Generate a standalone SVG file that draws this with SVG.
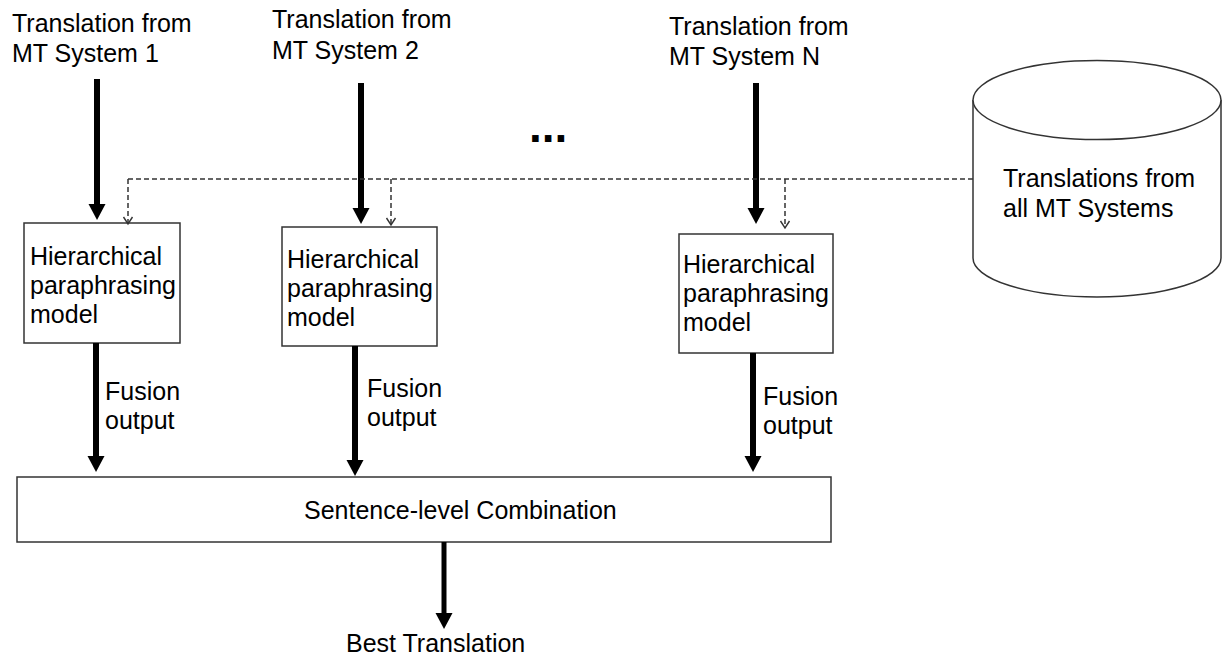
<svg xmlns="http://www.w3.org/2000/svg" width="1222" height="655" viewBox="0 0 1222 655">
  <style>
    text { font-family: "Liberation Sans", Arial, sans-serif; font-size: 25px; fill: #000; }
    .box { fill: #fff; stroke: #333; stroke-width: 1.5; }
    .thick { stroke: #000; stroke-width: 6; fill: none; }
    .dash { stroke: #333; stroke-width: 1.5; stroke-dasharray: 5 3; fill: none; }
  </style>
  <defs>
    <marker id="head" markerUnits="userSpaceOnUse" markerWidth="18" markerHeight="18" refX="0" refY="8.5" orient="auto" overflow="visible">
      <path d="M0,0 L16,8.5 L0,17 Z" fill="#000"/>
    </marker>
    <marker id="open" markerUnits="userSpaceOnUse" markerWidth="10" markerHeight="10" refX="7" refY="4.5" orient="auto" overflow="visible">
      <path d="M0,0 L7,4.5 L0,9" fill="none" stroke="#333" stroke-width="1.4" stroke-dasharray="none"/>
    </marker>
  </defs>

  <!-- source labels -->
  <g id="src1">
    <text x="12" y="32">Translation from</text>
    <text x="12" y="62">MT System 1</text>
  </g>
  <g id="src2">
    <text x="272" y="28">Translation from</text>
    <text x="272" y="59">MT System 2</text>
  </g>
  <g id="srcN">
    <text x="669" y="35">Translation from</text>
    <text x="669" y="65">MT System N</text>
  </g>
  <g id="ellipsis">
    <text x="529" y="142" style="font-size:46px;font-weight:bold">...</text>
  </g>

  <!-- store of all system outputs -->
  <g id="store">
    <path class="box" d="M973,100 L973,258 A124,39 0 0 0 1221,258 L1221,100"/>
    <ellipse class="box" cx="1097" cy="100" rx="124" ry="39.5"/>
    <text x="1003" y="187">Translations from</text>
    <text x="1003" y="217">all MT Systems</text>
  </g>

  <!-- paraphrasing models -->
  <g id="model1">
    <rect class="box" x="24" y="223" width="156" height="120"/>
    <text x="30" y="265">Hierarchical</text>
    <text x="30" y="294">paraphrasing</text>
    <text x="30" y="323">model</text>
  </g>
  <g id="model2">
    <rect class="box" x="282" y="227" width="155" height="119"/>
    <text x="287" y="268">Hierarchical</text>
    <text x="287" y="297">paraphrasing</text>
    <text x="287" y="326">model</text>
  </g>
  <g id="modelN">
    <rect class="box" x="679" y="234" width="154" height="119"/>
    <text x="683" y="273">Hierarchical</text>
    <text x="683" y="302">paraphrasing</text>
    <text x="683" y="331">model</text>
  </g>

  <!-- combination -->
  <g id="combine">
    <rect class="box" x="17" y="477" width="814" height="65"/>
    <text x="304" y="519">Sentence-level Combination</text>
  </g>
  <g id="best">
    <text x="346" y="652">Best Translation</text>
  </g>

  <g id="connectors">
    <!-- inputs -->
    <line class="thick" x1="97" y1="79" x2="97" y2="204" marker-end="url(#head)"/>
    <line class="thick" x1="361" y1="83" x2="361" y2="208" marker-end="url(#head)"/>
    <line class="thick" x1="756" y1="83" x2="756" y2="208" marker-end="url(#head)"/>

    <!-- shared store links -->
    <line class="dash" x1="973" y1="179" x2="128" y2="179"/>
    <line class="dash" x1="128" y1="179" x2="128" y2="224" marker-end="url(#open)"/>
    <line class="dash" x1="391" y1="179" x2="391" y2="225" marker-end="url(#open)"/>
    <line class="dash" x1="785" y1="179" x2="785" y2="228" marker-end="url(#open)"/>

    <!-- fusion outputs -->
    <line class="thick" x1="96" y1="343" x2="96" y2="456" marker-end="url(#head)"/>
    <text x="105" y="400">Fusion</text>
    <text x="105" y="429">output</text>
    <line class="thick" x1="355" y1="346" x2="355" y2="460" marker-end="url(#head)"/>
    <text x="367" y="397">Fusion</text>
    <text x="367" y="426">output</text>
    <line class="thick" x1="753" y1="353" x2="753" y2="456" marker-end="url(#head)"/>
    <text x="763" y="405">Fusion</text>
    <text x="763" y="434">output</text>

    <!-- final result -->
    <line class="thick" x1="444" y1="542" x2="444" y2="613" style="stroke-width:5" marker-end="url(#head)"/>
  </g>
</svg>
